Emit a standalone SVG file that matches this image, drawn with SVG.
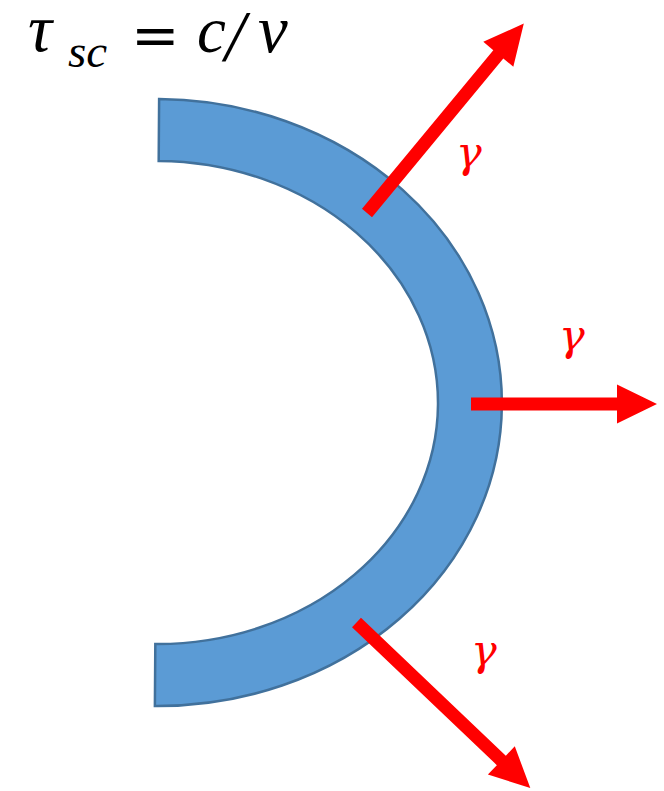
<svg xmlns="http://www.w3.org/2000/svg" width="664" height="791" viewBox="0 0 664 791">
<style>
.shell{fill:#5B9BD5;stroke:#41719C;stroke-width:2.5;stroke-linejoin:miter}
.arrow{fill:#FF0000;stroke:none}
.gam{font-family:"DejaVu Serif","Liberation Serif",serif;font-style:italic;font-size:43px;fill:#FF0000}
.eq{font-family:"Liberation Serif","DejaVu Serif",serif;fill:#000000;font-style:italic;font-size:65px}
</style>
<rect width="664" height="791" fill="#FFFFFF"/>
<g id="title">
<text class="eq" x="28" y="51"><tspan font-size="67">τ</tspan><tspan x="68" y="67" font-size="47">sc</tspan><tspan x="131" y="55" font-family="DejaVu Serif, serif" font-style="normal" font-size="58">=</tspan><tspan x="197" y="52">c</tspan><tspan x="225" y="60" font-size="72">/</tspan><tspan x="258" y="52" font-size="67">v</tspan></text>
</g>
<g id="shell">
<path class="shell" transform="rotate(0.4 157 402.5)" d="M157,99 A345,303.5 0 0 1 157,706 L157,644 A281,241.5 0 0 0 157,161 Z"/>
</g>
<g id="connectors">
<path class="arrow" transform="translate(367,213) rotate(-50.4)" d="M0,-6.5 H206 V-19.5 L246,0 L206,19.5 V6.5 H0 Z"/>
<path class="arrow" transform="translate(471,404)" d="M0,-6.5 H146 V-19.5 L186,0 L146,19.5 V6.5 H0 Z"/>
<path class="arrow" transform="translate(356.5,622.5) rotate(43.6)" d="M0,-6.5 H200 V-19.5 L240,0 L200,19.5 V6.5 H0 Z"/>
</g>
<g id="labels">
<text class="gam" x="456" y="167">γ</text>
<text class="gam" x="559" y="350">γ</text>
<text class="gam" x="471" y="665">γ</text>
</g>
</svg>
